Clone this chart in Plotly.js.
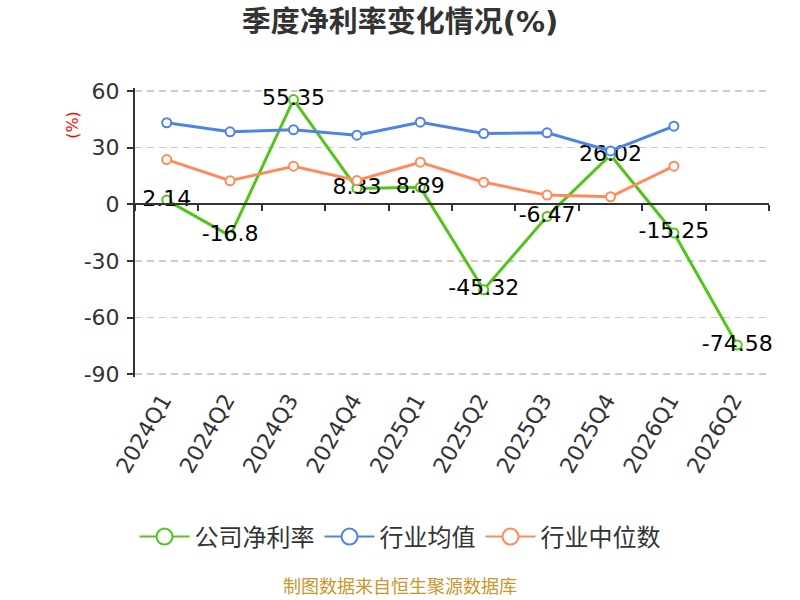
<!DOCTYPE html>
<html>
<head>
<meta charset="utf-8">
<script src="https://cdn.plot.ly/plotly-3.0.1.min.js"></script>
<style>
  html, body { margin: 0; padding: 0; background: #fff; }
  #chart { width: 800px; height: 600px; }
</style>
</head>
<body>
<div id="chart"></div>
<script>
// quarters on the x axis
var quarters = ["2024Q1", "2024Q2", "2024Q3", "2024Q4", "2025Q1", "2025Q2", "2025Q3", "2025Q4", "2026Q1", "2026Q2"];
// company net margin (%)
var companyMargin = [2.14, -16.8, 55.35, 8.33, 8.89, -45.32, -6.47, 26.02, -15.25, -74.58];
// industry average / median (no 2026Q2 value)
var industryAvg = [43.1, 38.3, 39.4, 36.5, 43.4, 37.4, 37.8, 28.2, 41.3, null];
var industryMedian = [23.6, 12.4, 20.1, 12.5, 22.2, 11.6, 4.8, 3.9, 20.1, null];
var yTicks = [-90, -60, -30, 0, 30, 60];

var names = ["公司净利率", "行业均值", "行业中位数"];
var colors = ["#52c41a", "#4e83e6", "#ff8b5b"];
var font = "DejaVu Sans, Noto Sans CJK SC, sans-serif";

function lineTrace(vals, i) {
    return {
        x: quarters,
        y: vals,
        name: names[i],
        type: 'scatter',
        mode: 'lines+markers',
        line: {color: colors[i], width: 3},
        marker: {size: 9, color: '#fff', line: {color: colors[i], width: 2}},
        showlegend: false,
        cliponaxis: false,
        hoverinfo: 'x+y'
    };
}

var company = lineTrace(companyMargin, 0);
company.mode = 'lines+markers+text';
company.text = companyMargin.map(function (v) { return String(v); });
company.textposition = 'middle center';
company.textfont = {family: font, size: 22, color: '#000'};

var data = [company, lineTrace(industryAvg, 1), lineTrace(industryMedian, 2)];

// legend-only entries, so the legend circles come out bigger
names.forEach(function (n, i) {
    data.push({
        x: [quarters[0]], y: [null], name: n, type: 'scatter', mode: 'lines+markers',
        line: {color: colors[i], width: 2},
        marker: {size: 16, color: '#fff', line: {color: colors[i], width: 2}},
        hoverinfo: 'skip'
    });
});

// dummy trace for the zero-line axis with the tick marks
data.push({x: quarters, y: quarters.map(function () { return null; }), xaxis: 'x2',
    type: 'scatter', mode: 'markers', showlegend: false, hoverinfo: 'skip'});

var yMin = -91.5, yMax = 61.5;

var layout = {
    width: 800,
    height: 600,
    margin: {l: 135, r: 31, t: 88, b: 223},
    paper_bgcolor: '#fff',
    plot_bgcolor: '#fff',
    font: {family: font, color: '#333'},
    title: {
        text: '<b>季度净利率变化情况(%)</b>',
        font: {family: font, size: 29, color: '#333'},
        x: 0.5, xref: 'container', xanchor: 'center',
        y: 0.963, yref: 'container', yanchor: 'middle'
    },
    xaxis: {
        type: 'category',
        range: [-0.5, 9.5],
        showline: false,
        showgrid: false,
        zeroline: false,
        ticks: '',
        tickangle: -60,
        ticklabelstandoff: 5,
        ticklabelshift: -4,
        tickfont: {family: font, size: 22, color: '#333'},
        fixedrange: true
    },
    xaxis2: {
        type: 'category',
        overlaying: 'x',
        anchor: 'free',
        position: (0 - yMin) / (yMax - yMin),
        range: [-0.5, 9.5],
        showline: true,
        linecolor: '#333',
        linewidth: 2,
        ticks: 'outside',
        tickson: 'boundaries',
        ticklen: 6,
        tickwidth: 2,
        tickcolor: '#333',
        showticklabels: false,
        showgrid: false,
        zeroline: false
    },
    yaxis: {
        range: [yMin, yMax],
        tickvals: yTicks,
        ticktext: yTicks.map(function (v) { return String(v); }),
        showline: true,
        linecolor: '#333',
        linewidth: 2,
        ticks: 'outside',
        ticklen: 6,
        tickwidth: 2,
        tickcolor: '#333',
        ticklabelstandoff: 3,
        showgrid: true,
        gridcolor: '#cccccc',
        gridwidth: 1.5,
        griddash: '7px,5px',
        zeroline: false,
        tickfont: {family: font, size: 22, color: '#333'},
        fixedrange: true
    },
    legend: {
        orientation: 'h',
        x: 0.5, xref: 'container', xanchor: 'center',
        y: 0.105, yref: 'container', yanchor: 'middle',
        font: {family: font, size: 24, color: '#333'},
        itemwidth: 50
    },
    annotations: [
        {
            text: '(%)', textangle: -90,
            xref: 'paper', yref: 'paper', x: -0.098, y: 0.872,
            xanchor: 'center', yanchor: 'middle', showarrow: false,
            font: {family: font, size: 16, color: '#ff0000'}
        },
        {
            text: '制图数据来自恒生聚源数据库',
            xref: 'paper', yref: 'paper', x: 0.418, y: -0.725,
            xanchor: 'center', yanchor: 'middle', showarrow: false,
            font: {family: font, size: 18, color: '#c8962c'}
        }
    ],
    showlegend: true
};

Plotly.newPlot('chart', data, layout, {displayModeBar: false, staticPlot: true});
</script>
</body>
</html>
